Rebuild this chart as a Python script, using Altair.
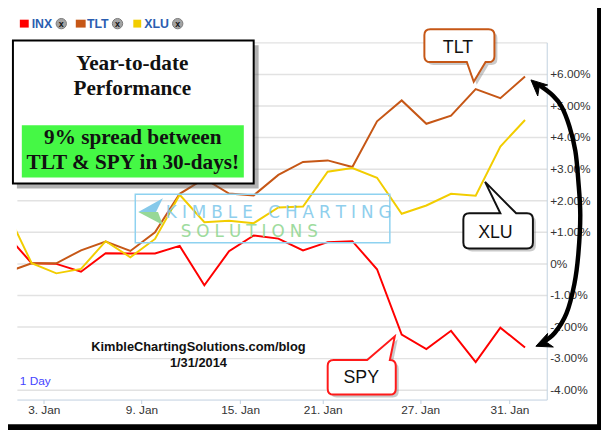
import math
import altair as alt
import pandas as pd

# ---------------- data ----------------
dates = ["Dec 31", "Jan 2", "Jan 3", "Jan 6", "Jan 7", "Jan 8", "Jan 9", "Jan 10",
         "Jan 13", "Jan 14", "Jan 15", "Jan 16", "Jan 17", "Jan 21", "Jan 22",
         "Jan 23", "Jan 24", "Jan 27", "Jan 28", "Jan 29", "Jan 30", "Jan 31"]
day_index = list(range(-1, 21))  # ordinal trading-day position (Jan 2 = 0)

spy = [0.89, 0.00, -0.02, -0.27, 0.32, 0.31, 0.31, 0.55, -0.70, 0.38, 0.88,
       0.78, 0.41, 0.67, 0.70, -0.19, -2.26, -2.72, -2.14, -3.13, -2.04, -2.67]
tlt = [-0.28, 0.00, 0.00, 0.41, 0.69, 0.39, 0.98, 2.20, 2.68, 2.21, 2.15,
       2.80, 3.21, 3.26, 3.05, 4.50, 5.16, 4.42, 4.68, 5.52, 5.23, 5.92]
xlu = [1.63, 0.00, -0.32, -0.18, 0.70, 0.19, 0.77, 2.17, 1.30, 1.35, 1.27,
       1.77, 1.80, 2.90, 3.02, 2.71, 1.57, 1.83, 2.20, 2.14, 3.70, 4.54]

series_names = ["SPY", "TLT", "XLU"]
series_colors = ["#FF0000", "#C65716", "#F2CD00"]
legend_names = ["INX", "TLT", "XLU"]

tick_pos = [0.49, 4.45, 8.45, 11.8, 15.75, 19.37]
tick_labels = ["3. Jan", "9. Jan", "15. Jan", "21. Jan", "27. Jan", "31. Jan"]
y_ticks = [-4, -3, -2, -1, 0, 1, 2, 3, 4, 5, 6, 7]

# arrow from the SPY end to the TLT end (data units)
arrow_x = [20.68, 21.12, 21.48, 21.80, 22.04, 22.16, 22.24, 22.16, 22.00, 21.68, 21.20, 20.72]
arrow_y = [5.59, 5.32, 4.97, 4.34, 3.56, 2.62, 1.53, 0.28, -0.66, -1.59, -2.21, -2.50]

# ---------------- scales / axes ----------------
W, H = 537, 362
xscale = alt.Scale(domain=[-0.6, 20.88], nice=False, zero=False)
yscale = alt.Scale(domain=[-4.32, 7.0], nice=False, zero=False)

x_label_expr = " : ".join(
    f"abs(datum.value - {p}) < 0.001 ? '{l}'" for p, l in zip(tick_pos, tick_labels)
) + " : ''"
y_label_expr = ("datum.value == 7 ? '' : datum.value == 0 ? '0%' : datum.value > 0 ? "
                "'+' + format(datum.value, '.2f') + '%' : '-' + format(-datum.value, '.2f') + '%'")

xaxis = alt.Axis(values=tick_pos, labelExpr=x_label_expr, grid=False, title=None,
                 domainColor="#C0D0E0", tickColor="#C0D0E0", tickSize=4,
                 labelFont="Liberation Sans", labelFontSize=12, labelColor="#333333",
                 labelPadding=1, labelFlush=False, labelOverlap=False)
yaxis = alt.Axis(values=y_ticks, labelExpr=y_label_expr, orient="right", title=None,
                 grid=True, gridColor="#E2E2E2", gridWidth=1.5, ticks=False, tickSize=0,
                 domainColor="#C0D0E0", labelFont="Liberation Sans", labelFontSize=12,
                 labelColor="#333333", labelPadding=3, labelAlign="left",
                 labelBaseline="middle", labelFlush=False, labelOverlap=False)
X = alt.X("x:Q", scale=xscale, axis=xaxis)
Y = alt.Y("y:Q", scale=yscale, axis=yaxis)

rows = []
for name, vals in zip(series_names, [spy, tlt, xlu]):
    for d, i, v in zip(dates, day_index, vals):
        rows.append({"series": name, "date": d, "x": i, "y": v})
lines = alt.Chart(pd.DataFrame(rows)).mark_line(strokeWidth=2, clip=True).encode(
    x=X, y=Y,
    color=alt.Color("series:N", scale=alt.Scale(domain=series_names, range=series_colors),
                    legend=None),
)

layers = [lines]
one = pd.DataFrame({"a": [0]})


def pix_rect(x0, x1, y0, y1, **kw):
    return alt.Chart(one).mark_rect(**kw).encode(
        x=alt.value(x0), x2=alt.value(x1), y=alt.value(y0), y2=alt.value(y1))


def pix_text(txt, x, y, **kw):
    return alt.Chart(one).mark_text(text=txt, **kw).encode(x=alt.value(x), y=alt.value(y))


def pix_shape(path, x, y, **kw):
    return alt.Chart(one).mark_point(shape=path, size=4, opacity=1, **kw).encode(
        x=alt.value(x), y=alt.value(y))


# ---------------- watermark ----------------
layers.append(pix_rect(120, 378, 154, 203, fill="white", fillOpacity=0.0,
                       stroke="#8ED2F0", strokeWidth=1.5))
layers.append(pix_shape("M0,0 L25,-14 L18,0 Z", 123, 172, filled=True,
                        fill="#86C9EA", strokeWidth=0))
layers.append(pix_shape("M0,0 L20,0 L25,13 Z", 123, 172, filled=True,
                        fill="#97D897", strokeWidth=0))
gap = "\u2009\u200a"
layers.append(pix_text(gap.join("KIMBLE CHARTING"), 151, 178, align="left",
                       baseline="alphabetic", font="DejaVu Sans", fontSize=17,
                       color="#7CC7EA", opacity=0.85))
layers.append(pix_text(gap.join("SOLUTIONS"), 166, 197, align="left",
                       baseline="alphabetic", font="DejaVu Sans", fontSize=17,
                       color="#8ED68E", opacity=0.85))

# ---------------- text box ----------------
layers.append(pix_rect(0, 245, 3, 148, fill="#555555", fillOpacity=0.45))
layers.append(pix_rect(-4, 240, -2, 143, fill="white", stroke="black", strokeWidth=2))
layers.append(pix_rect(5, 230, 84, 137, fill="#45F845"))
serif = dict(font="Liberation Serif", fontWeight="bold", fontSize=21.5, color="#111111",
             align="center", baseline="alphabetic")
layers.append(pix_text("Year-to-date", 117, 28, **serif))
layers.append(pix_text("Performance", 117, 53, **serif))
layers.append(pix_text("9% spread between", 117.5, 103, **serif))
layers.append(pix_text("TLT & SPY in 30-days!", 117.5, 128, **serif))


# ---------------- callouts ----------------
def callout_path(x0, y0, x1, y1, tip, base, side, r=6, off=0.0):
    tx, ty = tip
    b0, b1 = base

    def P(x, y):
        return f"{x + off:.1f},{y + off:.1f}"
    parts = [f"M{P(x0 + r, y0)}"]
    if side == "top":
        parts += [f"L{P(b0, y0)}", f"L{P(tx, ty)}", f"L{P(b1, y0)}"]
    parts += [f"L{P(x1 - r, y0)}", f"Q{P(x1, y0)} {P(x1, y0 + r)}",
              f"L{P(x1, y1 - r)}", f"Q{P(x1, y1)} {P(x1 - r, y1)}"]
    if side == "bottom":
        parts += [f"L{P(b1, y1)}", f"L{P(tx, ty)}", f"L{P(b0, y1)}"]
    parts += [f"L{P(x0 + r, y1)}", f"Q{P(x0, y1)} {P(x0, y1 - r)}",
              f"L{P(x0, y0 + r)}", f"Q{P(x0, y0)} {P(x0 + r, y0)}", "Z"]
    return " ".join(parts)


def callout(ax, ay, geom, color, label, tdx, tdy):
    src = pd.DataFrame({"x": [ax], "y": [ay]})
    base = alt.Chart(src).encode(x=X, y=Y)
    shadow = base.mark_point(shape=callout_path(*geom, off=3.0), size=4, filled=True,
                             fill="#7A7A7A", fillOpacity=0.4, strokeWidth=0, opacity=1)
    box = base.mark_point(shape=callout_path(*geom), size=4, filled=True, fill="white",
                          stroke=color, strokeWidth=2, opacity=1)
    txt = base.mark_text(text=label, dx=tdx, dy=tdy, align="center", baseline="alphabetic",
                         font="Liberation Sans", fontSize=18, color="#111111")
    return [shadow, box, txt]


# TLT callout anchored on the Jan 29 TLT point
layers += callout(day_index[19], tlt[19],
                  (-52, -60.7, 19, -27.4, (-2, -7.4), (-9, 10), "bottom"),
                  "#C65716", "TLT", -18, -36.4)
# XLU callout anchored on the Jan 29 XLU point
layers += callout(day_index[19], xlu[19],
                  (-12.5, 17.8, 58, 53.5, (9.5, -14), (25, 41), "top"),
                  "#111111", "XLU", 20, 42.8)
# SPY callout anchored on the Jan 24 SPY point
layers += callout(day_index[16], spy[16],
                  (-75, 25.8, -6, 60.8, (-7, 1.8), (-35, -12), "top"),
                  "#FF1A1A", "SPY", -41, 49.5)

# ---------------- curved arrow ----------------
arrow_df = pd.DataFrame({"x": arrow_x, "y": arrow_y, "o": list(range(len(arrow_x)))})
layers.append(alt.Chart(arrow_df).mark_line(interpolate="cardinal", strokeWidth=4.5,
                                            color="black", strokeCap="round").encode(
    x=X, y=Y, order="o:Q"))


def head_path(dx, dy, L=16, Wd=7.5):
    n = math.hypot(dx, dy)
    ux, uy = dx / n, dy / n
    nx, ny = -uy, ux
    bx, by = -L * ux, -L * uy
    return (f"M0,0 L{bx + Wd * nx:.1f},{by + Wd * ny:.1f} "
            f"L{bx * 0.7:.1f},{by * 0.7:.1f} L{bx - Wd * nx:.1f},{by - Wd * ny:.1f} Z")


heads = [(20.24, 5.81, -1.0, -0.9), (20.44, -2.63, -17, 7)]
for hx, hy, ddx, ddy in heads:
    layers.append(alt.Chart(pd.DataFrame({"x": [hx], "y": [hy]})).mark_point(
        shape=head_path(ddx, ddy), size=4, filled=True, fill="black", stroke="black",
        strokeWidth=1, opacity=1).encode(x=X, y=Y))

# ---------------- legend ----------------
sq = [(3, 12), (59.7, 69.7), (118, 126)]
txt_x = [15, 71, 129]
circ_x = [45, 102, 163]
for (a, b), c, tx, cx, nm in zip(sq, series_colors, txt_x, circ_x, legend_names):
    layers.append(pix_rect(a, b, -23, -15, fill=c))
    layers.append(pix_text(nm, tx, -15, align="left", baseline="alphabetic",
                           font="Liberation Sans", fontWeight="bold", fontSize=12.5,
                           color="#2A5DB0"))
    layers.append(alt.Chart(one).mark_point(shape="circle", size=110, filled=True,
                                            fill="#A3A3A3", stroke="#7A7A7A",
                                            strokeWidth=1, opacity=1).encode(
        x=alt.value(cx), y=alt.value(-19)))
    layers.append(pix_text("x", cx, -18.5, align="center", baseline="middle",
                           font="Liberation Sans", fontWeight="bold", fontSize=9,
                           color="#111111"))

# ---------------- footer texts ----------------
layers.append(pix_text("KimbleChartingSolutions.com/blog", 184, 313, align="center",
                       baseline="alphabetic", font="Liberation Sans", fontWeight="bold",
                       fontSize=13, color="#111111"))
layers.append(pix_text("1/31/2014", 184, 329, align="center", baseline="alphabetic",
                       font="Liberation Sans", fontWeight="bold", fontSize=13,
                       color="#111111"))
layers.append(pix_text("1 Day", 3, 347, align="left", baseline="alphabetic",
                       font="Liberation Sans", fontSize=12, color="#4444FF"))

# ---------------- black frame (screenshot border) ----------------
layers.append(pix_rect(588, 600, -40, 400, fill="black"))
layers.append(pix_rect(-20, 600, 387, 400, fill="black"))

chart = alt.layer(*layers).properties(
    width=W, height=H,
    padding={"left": 9, "top": 32, "right": 55, "bottom": 28},
    autosize=alt.AutoSizeParams(type="none"),
    background="white",
).configure_view(strokeWidth=0)

chart.save("out.html", embed_options={"renderer": "svg", "actions": False})
